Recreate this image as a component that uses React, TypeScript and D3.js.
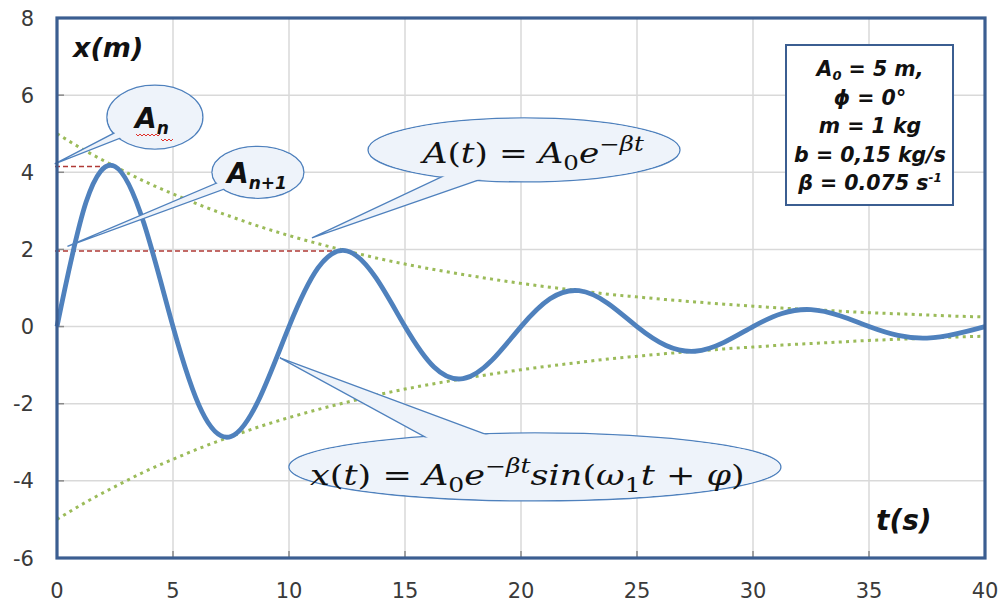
import React, { useEffect, useRef } from "react";
import * as d3 from "d3";

// time samples (s) and the damped displacement (m)
const tValues = [0, 1.25, 2.5, 3.75, 5, 6.25, 7.5, 8.75, 10, 11.25, 12.5, 13.75, 15, 16.25, 17.5, 18.75, 20,
  21.25, 22.5, 23.75, 25, 26.25, 27.5, 28.75, 30, 31.25, 32.5, 33.75, 35, 36.25, 37.5, 38.75, 40];
const xValues = [0, 3.22, 4.15, 2.67, 0, -2.21, -2.85, -1.83, 0, 1.52, 1.96, 1.26, 0, -1.05, -1.35, -0.87, 0,
  0.72, 0.93, 0.6, 0, -0.49, -0.64, -0.41, 0, 0.34, 0.44, 0.28, 0, -0.23, -0.3, -0.19, 0];
// envelope A(t), upper and lower dotted lines
const envUpper = [5.0, 4.55, 4.15, 3.77, 3.44, 3.13, 2.85, 2.59, 2.36, 2.15, 1.96, 1.78, 1.62, 1.48, 1.35, 1.23, 1.12,
  1.02, 0.93, 0.84, 0.77, 0.7, 0.64, 0.58, 0.53, 0.48, 0.44, 0.4, 0.36, 0.33, 0.3, 0.27, 0.25];
const envLower = [-5.0, -4.55, -4.15, -3.77, -3.44, -3.13, -2.85, -2.59, -2.36, -2.15, -1.96, -1.78, -1.62, -1.48, -1.35,
  -1.23, -1.12, -1.02, -0.93, -0.84, -0.77, -0.7, -0.64, -0.58, -0.53, -0.48, -0.44, -0.4, -0.36, -0.33, -0.3, -0.27, -0.25];

const xTicks = [0, 5, 10, 15, 20, 25, 30, 35, 40];
const yTicks = [-6, -4, -2, 0, 2, 4, 6, 8];

// peaks marked with the red dashed lines (A_n, A_n+1)
const peakTimes = [2.5, 12.5];

type Seg = { s: string; it?: boolean; dy?: number; size?: number; dx?: number };

const App = () => {
  const ref = useRef<SVGSVGElement>(null);

  useEffect(() => {
    const svg = d3.select(ref.current);
    svg.selectAll("*").remove();

    const width = 1000, height = 606;
    const margin = { top: 18, right: 15, bottom: 48, left: 57 };

    const x = d3.scaleLinear().domain([0, 40]).range([margin.left, width - margin.right]);
    const y = d3.scaleLinear().domain([-6, 8]).range([height - margin.bottom, margin.top]);

    svg.append("rect").attr("width", width).attr("height", height).attr("fill", "#fff");

    // grid
    const grid = svg.append("g").attr("stroke", "#d9d9d9").attr("stroke-width", 1.5);
    xTicks.slice(1, -1).forEach(t => {
      grid.append("line").attr("x1", x(t)).attr("x2", x(t)).attr("y1", y(8)).attr("y2", y(-6));
    });
    yTicks.slice(1, -1).forEach(v => {
      grid.append("line").attr("x1", x(0)).attr("x2", x(40)).attr("y1", y(v)).attr("y2", y(v));
    });

    // inner tick marks
    const ticks = svg.append("g").attr("stroke", "#8a8a8a").attr("stroke-width", 1.5);
    yTicks.forEach(v => {
      ticks.append("line").attr("x1", x(0)).attr("x2", x(0) + 7).attr("y1", y(v)).attr("y2", y(v));
    });
    xTicks.forEach(t => {
      ticks.append("line").attr("x1", x(t)).attr("x2", x(t)).attr("y1", y(-6)).attr("y2", y(-6) - 7);
    });

    const line = d3.line<number>()
      .x((_, i) => x(tValues[i]))
      .y(d => y(d))
      .curve(d3.curveNatural);

    // envelopes
    [envUpper, envLower].forEach(env => {
      svg.append("path")
        .attr("d", line(env))
        .attr("fill", "none")
        .attr("stroke", "#9bbb59")
        .attr("stroke-width", 3)
        .attr("stroke-dasharray", "3 4.3");
    });

    // red dashed amplitude markers
    peakTimes.forEach(pt => {
      const v = xValues[tValues.indexOf(pt)];
      svg.append("line")
        .attr("x1", x(0) - 2).attr("x2", x(pt))
        .attr("y1", y(v)).attr("y2", y(v))
        .attr("stroke", "#b03a36")
        .attr("stroke-width", 1.5)
        .attr("stroke-dasharray", "5 3");
    });

    // damped oscillation
    svg.append("path")
      .attr("d", line(xValues))
      .attr("fill", "none")
      .attr("stroke", "#4f81bd")
      .attr("stroke-width", 4.8);

    // callouts: ellipse + wedge pointing at (tt, tv), wedge leaves ellipse between angles a1 and a2
    const callout = (ct: number, cv: number, rx: number, ry: number, tt: number, tv: number, a1: number, a2: number) => {
      const cx = x(ct), cy = y(cv);
      const g = svg.append("g");
      const pt = (a: number): [number, number] =>
        [cx + 0.75 * rx * Math.cos(a * Math.PI / 180), cy + 0.75 * ry * Math.sin(a * Math.PI / 180)];
      const p1 = pt(a1), p2 = pt(a2);
      g.append("ellipse").attr("cx", cx).attr("cy", cy).attr("rx", rx).attr("ry", ry)
        .attr("fill", "#eef3fa").attr("stroke", "#4f81bd").attr("stroke-width", 1.3);
      g.append("path")
        .attr("d", `M${x(tt)},${y(tv)}L${p1[0]},${p1[1]}L${p2[0]},${p2[1]}Z`)
        .attr("fill", "#eef3fa").attr("stroke", "#4f81bd").attr("stroke-width", 1.3)
        .attr("stroke-linejoin", "miter");
      g.append("ellipse").attr("cx", cx).attr("cy", cy).attr("rx", rx - 0.9).attr("ry", ry - 0.9)
        .attr("fill", "#eef3fa");
      return g;
    };

    const richText = (g: any, segs: Seg[], px: number, py: number, family: string, size: number,
      opts: { weight?: string; anchor?: string } = {}) => {
      const txt = g.append("text")
        .attr("x", px).attr("y", py)
        .attr("font-family", family)
        .attr("font-size", size)
        .attr("font-weight", opts.weight || "normal")
        .attr("text-anchor", opts.anchor || "start")
        .attr("fill", "#111");
      segs.forEach(sg => {
        const ts = txt.append("tspan").text(sg.s);
        if (sg.it) ts.attr("font-style", "italic");
        if (sg.dy) ts.attr("dy", sg.dy);
        if (sg.dx) ts.attr("dx", sg.dx);
        if (sg.size) ts.attr("font-size", sg.size);
      });
      return txt;
    };

    // squeeze/stretch a text horizontally so it spans [x0, x0 + w]
    const fitWidth = (txt: any, x0: number, w: number) => {
      const bb = (txt.node() as SVGTextElement).getBBox();
      const k = w / bb.width;
      txt.attr("transform", `translate(${x0 - bb.x * k},0) scale(${k},1)`);
    };

    // A_n
    const c1 = callout(4.22, 5.43, 48, 32, -0.1, 4.22, 152, 134);
    richText(c1, [{ s: "A" }, { s: "n", size: 17, dy: 6 }], 135, 128, "DejaVu Sans", 28,
      { weight: "bold" }).attr("font-style", "italic");
    c1.append("path")
      .attr("d", "M136,134 l2,2 l2,-2 l2,2 l2,-2 l2,2 l2,-2 l2,2 l2,-2 l2,2 l2,-2 l2,2 l2,-2 M161,139 l2,2 l2,-2 l2,2 l2,-2 l2,2 l2,-2")
      .attr("fill", "none").attr("stroke", "#e0302a").attr("stroke-width", 1);

    // A_n+1
    const c2 = callout(8.66, 4.0, 46, 26, 0.45, 2.08, 159, 136);
    richText(c2, [{ s: "A" }, { s: "n+1", size: 17, dy: 6 }], 227, 183, "DejaVu Sans", 28,
      { weight: "bold" }).attr("font-style", "italic");

    // A(t) = A0 e^-bt
    const c3 = callout(20.13, 4.58, 156, 32, 10.99, 2.3, 125, 103);
    const t3 = richText(c3, [
      { s: "A", it: true }, { s: "(" }, { s: "t", it: true }, { s: ")" },
      { s: " = " }, { s: "A", it: true }, { s: "0", size: 20, dy: 7 },
      { s: "e", it: true, dy: -7 }, { s: "−", size: 20, dy: -12 }, { s: "β", it: true, size: 20 },
      { s: "t", it: true, size: 20 }
    ], 419, 163, "DejaVu Serif", 28);
    fitWidth(t3, 419, 226);

    // x(t) = A0 e^-bt sin(w1 t + phi)
    const c4 = callout(20.6, -3.64, 246, 34, 9.61, -0.81, 239, 261);
    const t4 = richText(c4, [
      { s: "x", it: true }, { s: "(" }, { s: "t", it: true }, { s: ")" },
      { s: " = " }, { s: "A", it: true }, { s: "0", size: 20, dy: 7 },
      { s: "e", it: true, dy: -7 }, { s: "−", size: 20, dy: -12 }, { s: "β", it: true, size: 20 },
      { s: "t", it: true, size: 20 },
      { s: "sin", it: true, dy: 12 }, { s: "(" }, { s: "ω", it: true }, { s: "1", size: 20, dy: 7 },
      { s: "t", it: true, dy: -7 }, { s: " + " }, { s: "φ", it: true }, { s: ")" }
    ], 310, 485, "DejaVu Serif", 28);
    fitWidth(t4, 310, 435);

    // plot frame
    svg.append("rect")
      .attr("x", x(0)).attr("y", y(8))
      .attr("width", x(40) - x(0)).attr("height", y(-6) - y(8))
      .attr("fill", "none")
      .attr("stroke", "#3b5e91")
      .attr("stroke-width", 3.2);

    // tick labels
    const lab = svg.append("g")
      .attr("font-family", "DejaVu Sans")
      .attr("font-size", 21)
      .attr("fill", "#3a3a3a");
    yTicks.forEach(v => {
      lab.append("text").attr("x", 34).attr("y", y(v)).attr("dy", "0.36em")
        .attr("text-anchor", "end").text(v);
    });
    xTicks.forEach(t => {
      lab.append("text").attr("x", x(t)).attr("y", 598)
        .attr("text-anchor", "middle").text(t);
    });

    // axis titles
    svg.append("text").attr("x", 73).attr("y", 57)
      .attr("font-family", "DejaVu Sans").attr("font-weight", "bold").attr("font-style", "italic")
      .attr("font-size", 27).attr("fill", "#111").text("x(m)");
    svg.append("text").attr("x", 876).attr("y", 530)
      .attr("font-family", "DejaVu Sans").attr("font-weight", "bold").attr("font-style", "italic")
      .attr("font-size", 28).attr("fill", "#111").text("t(s)");

    // parameter box
    const box = svg.append("g");
    box.append("rect").attr("x", 786).attr("y", 45).attr("width", 167).attr("height", 160)
      .attr("fill", "#fff").attr("stroke", "#3b5e91").attr("stroke-width", 2);
    const paramLines: Seg[][] = [
      [{ s: "A" }, { s: "0", size: 13, dy: 4 }, { s: " = 5 m,", dy: -4 }],
      [{ s: "ϕ = 0°" }],
      [{ s: "m = 1 kg" }],
      [{ s: "b = 0,15 kg/s" }],
      [{ s: "β = 0.075 s" }, { s: "-1", size: 12, dy: -8 }]
    ];
    paramLines.forEach((segs, i) => {
      richText(box, segs, 870, 76 + i * 28.5, "DejaVu Sans", 20.5, { weight: "bold", anchor: "middle" })
        .attr("font-style", "italic");
    });
  }, []);

  return (
    <svg
      ref={ref}
      width={1000}
      height={606}
      style={{ position: "absolute", left: 0, top: 0, display: "block" }}
    />
  );
};

export default App;
